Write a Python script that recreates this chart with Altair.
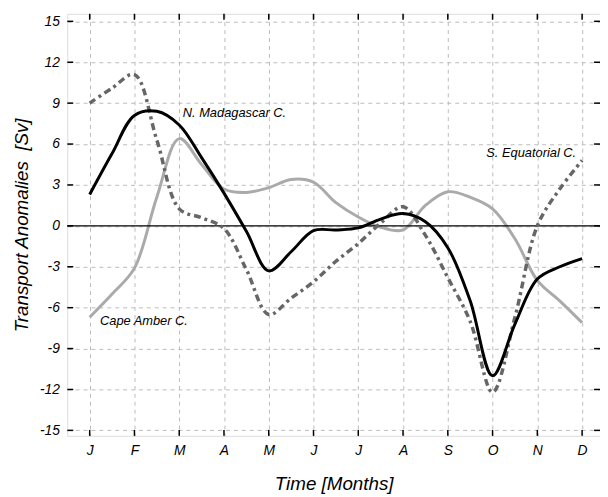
import altair as alt
import pandas as pd

months = ["J", "F", "M", "A", "M", "J", "J", "A", "S", "O", "N", "D"]
t = [0, 0.5, 1, 1.5, 2, 2.5, 3, 3.5, 4, 4.5, 5, 5.5, 6, 6.5, 7, 7.5, 8, 8.5, 9, 9.5, 10, 10.5, 11]

madagascar = [2.3, 5.3, 8.1, 8.4, 7.4, 5.0, 2.4, -0.4, -3.3, -1.9, -0.35, -0.3, -0.15, 0.5, 0.9, 0.3,
              -1.6, -5.5, -11.0, -7.2, -3.9, -3.0, -2.4]
cape_amber = [-6.7, -5.0, -3.1, 2.1, 6.4, 4.5, 2.7, 2.45, 2.8, 3.4, 3.2, 1.7, 0.65, -0.1, -0.3, 1.5,
              2.5, 2.1, 1.25, -0.95, -4.0, -5.5, -7.1]
s_equatorial = [9.0, 10.1, 11.1, 6.3, 1.25, 0.6, -0.2, -3.2, -6.5, -5.3, -4.1, -2.6, -1.3, 0.2, 1.4, -0.7,
                -3.8, -7.0, -12.2, -6.7, 0.0, 2.7, 4.8]

labels = ["N. Madagascar C.", "Cape Amber C.", "S. Equatorial C."]
label_t = [2.08, 0.23, 8.86]
label_v = [8.25, -7.0, 5.35]

series = {"mad": madagascar, "cape": cape_amber, "seq": s_equatorial}
rows = []
for k, vals in series.items():
    for ti, v in zip(t, vals):
        rows.append({"t": ti, "v": v, "s": k})
df = pd.DataFrame(rows)

XD = [-0.5, 11.4]
YD = [-15.4, 15.55]
FONT = "Liberation Sans"
INTERP = "catmull-rom"

x_enc = alt.X("t:Q", scale=alt.Scale(domain=XD, nice=False, zero=False),
              axis=alt.Axis(values=list(range(12)),
                            labelExpr="['J','F','M','A','M','J','J','A','S','O','N','D'][datum.value]",
                            title="Time [Months]", titleFontSize=19, titleFontStyle="italic",
                            titleFontWeight="normal", titlePadding=17, titleFont=FONT,
                            labelFont=FONT, labelFontSize=14, labelFontStyle="italic", labelColor="black",
                            labelPadding=8, ticks=False, domain=False,
                            grid=True, gridDash=[4, 4], gridColor="#bbbbbb", gridWidth=1))
y_enc = alt.Y("v:Q", scale=alt.Scale(domain=YD, nice=False, zero=False),
              axis=alt.Axis(values=list(range(-15, 16, 3)),
                            labelExpr="'' + datum.value",
                            title="Transport Anomalies \u00a0[Sv]", titleFontSize=19, titleFontStyle="italic",
                            titleFontWeight="normal", titlePadding=8, titleFont=FONT,
                            labelFont=FONT, labelFontSize=14, labelFontStyle="italic", labelColor="black",
                            labelPadding=8, ticks=False, domain=False,
                            grid=True, gridDash=[4, 4], gridColor="#bbbbbb", gridWidth=1))

base = alt.Chart(df)

zero = alt.Chart(pd.DataFrame({"v": [0]})).mark_rule(color="black", strokeWidth=1.3).encode(
    y=alt.Y("v:Q", scale=alt.Scale(domain=YD, nice=False, zero=False)))

cape = base.transform_filter("datum.s == 'cape'").mark_line(
    color="#aaaaaa", strokeWidth=3, interpolate=INTERP).encode(x=x_enc, y=y_enc)
seq = base.transform_filter("datum.s == 'seq'").mark_line(
    color="#666666", strokeWidth=3.5, strokeDash=[7, 4, 3, 4], interpolate=INTERP).encode(x=x_enc, y=y_enc)
mad = base.transform_filter("datum.s == 'mad'").mark_line(
    color="black", strokeWidth=3, interpolate=INTERP).encode(x=x_enc, y=y_enc)

ldf = pd.DataFrame({"t": label_t, "v": label_v, "label": labels})
text = alt.Chart(ldf).mark_text(align="left", baseline="middle", font=FONT, fontSize=13,
                                fontStyle="italic", color="black").encode(
    x=alt.X("t:Q", scale=alt.Scale(domain=XD, nice=False, zero=False)),
    y=alt.Y("v:Q", scale=alt.Scale(domain=YD, nice=False, zero=False)),
    text="label:N")

tdf = pd.DataFrame({"t": list(range(12))})
xs = alt.X("t:Q", scale=alt.Scale(domain=XD, nice=False, zero=False))
bt = alt.Chart(tdf).mark_rule(color="black", strokeWidth=1.5).encode(x=xs, y=alt.value(427), y2=alt.value(421))
tt = alt.Chart(tdf).mark_rule(color="black", strokeWidth=1.5).encode(x=xs, y=alt.value(0), y2=alt.value(6))
ydf = pd.DataFrame({"v": list(range(-15, 16, 3))})
ys = alt.Y("v:Q", scale=alt.Scale(domain=YD, nice=False, zero=False))
lt = alt.Chart(ydf).mark_rule(color="black", strokeWidth=1.5).encode(y=ys, x=alt.value(0), x2=alt.value(6))
rt = alt.Chart(ydf).mark_rule(color="black", strokeWidth=1.5).encode(y=ys, x=alt.value(539), x2=alt.value(533))

chart = alt.layer(cape, zero, seq, mad, text, bt, tt, lt, rt).properties(
    width=539, height=427,
    autosize=alt.AutoSizeParams(type="none"),
    padding={"left": 60, "top": 3, "right": 0, "bottom": 60},
).configure_view(stroke="black", strokeWidth=2).configure(background="white")

chart.save("out.html", embed_options={"renderer": "svg", "actions": False})
